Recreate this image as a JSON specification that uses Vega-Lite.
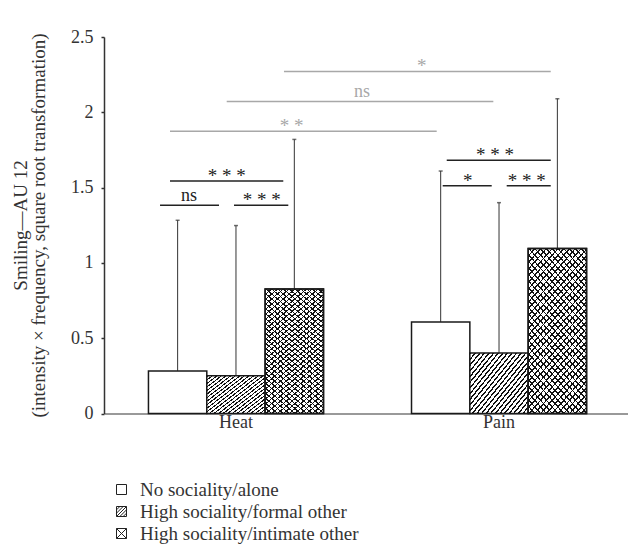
{
  "$schema": "https://vega.github.io/schema/vega-lite/v6.json",
  "width": 527,
  "height": 376.5,
  "autosize": "none",
  "padding": {"left": 104, "top": 37, "right": 0, "bottom": 142.5},
  "background": "white",
  "config": {
    "font": "Liberation Serif",
    "view": {"stroke": null},
    "axis": {"labelFont": "Liberation Serif", "titleFont": "Liberation Serif", "labelColor": "#333", "titleColor": "#333", "grid": false}
  },
  "datasets": {
    "bars": [
      {"stimulus": "Heat", "condition": "No sociality/alone", "mean": 0.283, "upper": 1.283},
      {"stimulus": "Heat", "condition": "High sociality/formal other", "mean": 0.25, "upper": 1.248},
      {"stimulus": "Heat", "condition": "High sociality/intimate other", "mean": 0.827, "upper": 1.82},
      {"stimulus": "Pain", "condition": "No sociality/alone", "mean": 0.608, "upper": 1.61},
      {"stimulus": "Pain", "condition": "High sociality/formal other", "mean": 0.402, "upper": 1.4},
      {"stimulus": "Pain", "condition": "High sociality/intimate other", "mean": 1.095, "upper": 2.09}
    ],
    "sig": [
      {"kind": "across", "from": 2.834, "to": 7.407, "y": 2.271, "label": "*", "lx": 5.195},
      {"kind": "across", "from": 1.852, "to": 6.423, "y": 2.072, "label": "ns", "lx": 4.172},
      {"kind": "across", "from": 0.88, "to": 5.452, "y": 1.875, "label": "* *", "lx": 2.966},
      {"kind": "within", "from": 0.88, "to": 2.822, "y": 1.543, "label": "* * *", "lx": 1.852},
      {"kind": "within", "from": 0.709, "to": 1.72, "y": 1.382, "label": "ns", "lx": 1.206},
      {"kind": "within", "from": 1.977, "to": 2.908, "y": 1.382, "label": "* * *", "lx": 2.452},
      {"kind": "within", "from": 5.624, "to": 7.407, "y": 1.681, "label": "* * *", "lx": 6.452},
      {"kind": "within", "from": 5.555, "to": 6.395, "y": 1.513, "label": "*", "lx": 5.984},
      {"kind": "within", "from": 6.652, "to": 7.407, "y": 1.513, "label": "* * *", "lx": 6.995}
    ]
  },
  "layer": [
    {
      "data": {"name": "bars"},
      "encoding": {
        "x": {
          "field": "stimulus", "type": "nominal",
          "scale": {"paddingInner": 0.3346, "paddingOuter": 0.169},
          "axis": {"title": null, "ticks": false, "labelAngle": 0, "labelFontSize": 18, "labelPadding": 0, "labelBaseline": "top", "domainColor": "#777", "domainWidth": 1.5}
        },
        "xOffset": {
          "field": "condition", "type": "nominal",
          "sort": ["No sociality/alone", "High sociality/formal other", "High sociality/intimate other"],
          "scale": {"paddingInner": 0, "paddingOuter": 0}
        },
        "y": {
          "field": "mean", "type": "quantitative",
          "scale": {"domain": [0, 2.5], "nice": false},
          "axis": {
            "values": [0, 0.5, 1, 1.5, 2, 2.5],
            "labelExpr": "'' + datum.value",
            "labelFontSize": 18, "labelPadding": 8,
            "tickSize": 3, "tickColor": "#333", "tickWidth": 1.5,
            "domainColor": "#333", "domainWidth": 1.5,
            "title": ["Smiling—AU 12", "(intensity × frequency, square root transformation)"],
            "titleFontSize": 19, "titleFontWeight": "normal", "titleLineHeight": 18,
            "titleX": -78, "titleY": 188, "titleAlign": "center", "titleBaseline": "alphabetic", "titleAngle": -90
          }
        }
      },
      "layer": [
        {
          "mark": {"type": "rule", "color": "#333", "strokeWidth": 1},
          "encoding": {"y2": {"field": "upper"}}
        },
        {
          "mark": {"type": "tick", "color": "#333", "size": 4, "thickness": 1.5},
          "encoding": {"y": {"field": "upper", "type": "quantitative"}}
        },
        {
          "transform": [{"filter": "datum.condition == 'No sociality/alone'"}],
          "mark": {"type": "bar", "fill": "white", "stroke": "#1a1a1a", "strokeWidth": 1.5}
        },
        {
          "transform": [{"filter": "datum.condition == 'High sociality/formal other'"}],
          "mark": {"type": "bar", "stroke": "#1a1a1a", "strokeWidth": 1.5,
            "fill": {"gradient": "linear", "x1": 0, "y1": 0, "x2": 1.1096, "y2": 0.932, "stops": [
              {"offset": 0, "color": "#111"}, {"offset": 0.015, "color": "#111"}, {"offset": 0.015, "color": "#fff"}, {"offset": 0.042, "color": "#fff"},
              {"offset": 0.042, "color": "#111"}, {"offset": 0.057, "color": "#111"}, {"offset": 0.057, "color": "#fff"}, {"offset": 0.083, "color": "#fff"},
              {"offset": 0.083, "color": "#111"}, {"offset": 0.099, "color": "#111"}, {"offset": 0.099, "color": "#fff"}, {"offset": 0.125, "color": "#fff"},
              {"offset": 0.125, "color": "#111"}, {"offset": 0.14, "color": "#111"}, {"offset": 0.14, "color": "#fff"}, {"offset": 0.167, "color": "#fff"},
              {"offset": 0.167, "color": "#111"}, {"offset": 0.182, "color": "#111"}, {"offset": 0.182, "color": "#fff"}, {"offset": 0.208, "color": "#fff"},
              {"offset": 0.208, "color": "#111"}, {"offset": 0.224, "color": "#111"}, {"offset": 0.224, "color": "#fff"}, {"offset": 0.25, "color": "#fff"},
              {"offset": 0.25, "color": "#111"}, {"offset": 0.265, "color": "#111"}, {"offset": 0.265, "color": "#fff"}, {"offset": 0.292, "color": "#fff"},
              {"offset": 0.292, "color": "#111"}, {"offset": 0.307, "color": "#111"}, {"offset": 0.307, "color": "#fff"}, {"offset": 0.333, "color": "#fff"},
              {"offset": 0.333, "color": "#111"}, {"offset": 0.349, "color": "#111"}, {"offset": 0.349, "color": "#fff"}, {"offset": 0.375, "color": "#fff"},
              {"offset": 0.375, "color": "#111"}, {"offset": 0.39, "color": "#111"}, {"offset": 0.39, "color": "#fff"}, {"offset": 0.417, "color": "#fff"},
              {"offset": 0.417, "color": "#111"}, {"offset": 0.432, "color": "#111"}, {"offset": 0.432, "color": "#fff"}, {"offset": 0.458, "color": "#fff"},
              {"offset": 0.458, "color": "#111"}, {"offset": 0.474, "color": "#111"}, {"offset": 0.474, "color": "#fff"}, {"offset": 0.5, "color": "#fff"},
              {"offset": 0.5, "color": "#111"}, {"offset": 0.515, "color": "#111"}, {"offset": 0.515, "color": "#fff"}, {"offset": 0.542, "color": "#fff"},
              {"offset": 0.542, "color": "#111"}, {"offset": 0.557, "color": "#111"}, {"offset": 0.557, "color": "#fff"}, {"offset": 0.583, "color": "#fff"},
              {"offset": 0.583, "color": "#111"}, {"offset": 0.599, "color": "#111"}, {"offset": 0.599, "color": "#fff"}, {"offset": 0.625, "color": "#fff"},
              {"offset": 0.625, "color": "#111"}, {"offset": 0.64, "color": "#111"}, {"offset": 0.64, "color": "#fff"}, {"offset": 0.667, "color": "#fff"},
              {"offset": 0.667, "color": "#111"}, {"offset": 0.682, "color": "#111"}, {"offset": 0.682, "color": "#fff"}, {"offset": 0.708, "color": "#fff"},
              {"offset": 0.708, "color": "#111"}, {"offset": 0.724, "color": "#111"}, {"offset": 0.724, "color": "#fff"}, {"offset": 0.75, "color": "#fff"},
              {"offset": 0.75, "color": "#111"}, {"offset": 0.765, "color": "#111"}, {"offset": 0.765, "color": "#fff"}, {"offset": 0.792, "color": "#fff"},
              {"offset": 0.792, "color": "#111"}, {"offset": 0.807, "color": "#111"}, {"offset": 0.807, "color": "#fff"}, {"offset": 0.833, "color": "#fff"},
              {"offset": 0.833, "color": "#111"}, {"offset": 0.849, "color": "#111"}, {"offset": 0.849, "color": "#fff"}, {"offset": 0.875, "color": "#fff"},
              {"offset": 0.875, "color": "#111"}, {"offset": 0.89, "color": "#111"}, {"offset": 0.89, "color": "#fff"}, {"offset": 0.917, "color": "#fff"},
              {"offset": 0.917, "color": "#111"}, {"offset": 0.932, "color": "#111"}, {"offset": 0.932, "color": "#fff"}, {"offset": 0.958, "color": "#fff"},
              {"offset": 0.958, "color": "#111"}, {"offset": 0.974, "color": "#111"}, {"offset": 0.974, "color": "#fff"}, {"offset": 1, "color": "#fff"}
            ]}
          }
        },
        {
          "transform": [{"filter": "datum.condition == 'High sociality/intimate other'"}],
          "mark": {"type": "bar", "stroke": "#1a1a1a", "strokeWidth": 1.5,
            "fill": {"gradient": "linear", "x1": 0, "y1": 0, "x2": 0.49866, "y2": 1.23937, "stops": [
              {"offset": 0, "color": "#111"}, {"offset": 0.0075, "color": "#111"}, {"offset": 0.0075, "color": "#fff"}, {"offset": 0.0278, "color": "#fff"},
              {"offset": 0.0278, "color": "#111"}, {"offset": 0.0353, "color": "#111"}, {"offset": 0.0353, "color": "#fff"}, {"offset": 0.0556, "color": "#fff"},
              {"offset": 0.0556, "color": "#111"}, {"offset": 0.0631, "color": "#111"}, {"offset": 0.0631, "color": "#fff"}, {"offset": 0.0833, "color": "#fff"},
              {"offset": 0.0833, "color": "#111"}, {"offset": 0.0908, "color": "#111"}, {"offset": 0.0908, "color": "#fff"}, {"offset": 0.1111, "color": "#fff"},
              {"offset": 0.1111, "color": "#111"}, {"offset": 0.1186, "color": "#111"}, {"offset": 0.1186, "color": "#fff"}, {"offset": 0.1389, "color": "#fff"},
              {"offset": 0.1389, "color": "#111"}, {"offset": 0.1464, "color": "#111"}, {"offset": 0.1464, "color": "#fff"}, {"offset": 0.1667, "color": "#fff"},
              {"offset": 0.1667, "color": "#111"}, {"offset": 0.1742, "color": "#111"}, {"offset": 0.1742, "color": "#fff"}, {"offset": 0.1944, "color": "#fff"},
              {"offset": 0.1944, "color": "#111"}, {"offset": 0.2019, "color": "#111"}, {"offset": 0.2019, "color": "#fff"}, {"offset": 0.2222, "color": "#fff"},
              {"offset": 0.2222, "color": "#111"}, {"offset": 0.2297, "color": "#111"}, {"offset": 0.2297, "color": "#fff"}, {"offset": 0.25, "color": "#fff"},
              {"offset": 0.25, "color": "#111"}, {"offset": 0.2575, "color": "#111"}, {"offset": 0.2575, "color": "#fff"}, {"offset": 0.2778, "color": "#fff"},
              {"offset": 0.2778, "color": "#111"}, {"offset": 0.2853, "color": "#111"}, {"offset": 0.2853, "color": "#fff"}, {"offset": 0.3056, "color": "#fff"},
              {"offset": 0.3056, "color": "#111"}, {"offset": 0.3131, "color": "#111"}, {"offset": 0.3131, "color": "#fff"}, {"offset": 0.3333, "color": "#fff"},
              {"offset": 0.3333, "color": "#111"}, {"offset": 0.3408, "color": "#111"}, {"offset": 0.3408, "color": "#fff"}, {"offset": 0.3611, "color": "#fff"},
              {"offset": 0.3611, "color": "#111"}, {"offset": 0.3686, "color": "#111"}, {"offset": 0.3686, "color": "#fff"}, {"offset": 0.3889, "color": "#fff"},
              {"offset": 0.3889, "color": "#111"}, {"offset": 0.3964, "color": "#111"}, {"offset": 0.3964, "color": "#fff"}, {"offset": 0.4167, "color": "#fff"},
              {"offset": 0.4167, "color": "#111"}, {"offset": 0.4242, "color": "#111"}, {"offset": 0.4242, "color": "#fff"}, {"offset": 0.4444, "color": "#fff"},
              {"offset": 0.4444, "color": "#111"}, {"offset": 0.4519, "color": "#111"}, {"offset": 0.4519, "color": "#fff"}, {"offset": 0.4722, "color": "#fff"},
              {"offset": 0.4722, "color": "#111"}, {"offset": 0.4797, "color": "#111"}, {"offset": 0.4797, "color": "#fff"}, {"offset": 0.5, "color": "#fff"},
              {"offset": 0.5, "color": "#111"}, {"offset": 0.5075, "color": "#111"}, {"offset": 0.5075, "color": "#fff"}, {"offset": 0.5278, "color": "#fff"},
              {"offset": 0.5278, "color": "#111"}, {"offset": 0.5353, "color": "#111"}, {"offset": 0.5353, "color": "#fff"}, {"offset": 0.5556, "color": "#fff"},
              {"offset": 0.5556, "color": "#111"}, {"offset": 0.5631, "color": "#111"}, {"offset": 0.5631, "color": "#fff"}, {"offset": 0.5833, "color": "#fff"},
              {"offset": 0.5833, "color": "#111"}, {"offset": 0.5908, "color": "#111"}, {"offset": 0.5908, "color": "#fff"}, {"offset": 0.6111, "color": "#fff"},
              {"offset": 0.6111, "color": "#111"}, {"offset": 0.6186, "color": "#111"}, {"offset": 0.6186, "color": "#fff"}, {"offset": 0.6389, "color": "#fff"},
              {"offset": 0.6389, "color": "#111"}, {"offset": 0.6464, "color": "#111"}, {"offset": 0.6464, "color": "#fff"}, {"offset": 0.6667, "color": "#fff"},
              {"offset": 0.6667, "color": "#111"}, {"offset": 0.6742, "color": "#111"}, {"offset": 0.6742, "color": "#fff"}, {"offset": 0.6944, "color": "#fff"},
              {"offset": 0.6944, "color": "#111"}, {"offset": 0.7019, "color": "#111"}, {"offset": 0.7019, "color": "#fff"}, {"offset": 0.7222, "color": "#fff"},
              {"offset": 0.7222, "color": "#111"}, {"offset": 0.7297, "color": "#111"}, {"offset": 0.7297, "color": "#fff"}, {"offset": 0.75, "color": "#fff"},
              {"offset": 0.75, "color": "#111"}, {"offset": 0.7575, "color": "#111"}, {"offset": 0.7575, "color": "#fff"}, {"offset": 0.7778, "color": "#fff"},
              {"offset": 0.7778, "color": "#111"}, {"offset": 0.7853, "color": "#111"}, {"offset": 0.7853, "color": "#fff"}, {"offset": 0.8056, "color": "#fff"},
              {"offset": 0.8056, "color": "#111"}, {"offset": 0.8131, "color": "#111"}, {"offset": 0.8131, "color": "#fff"}, {"offset": 0.8333, "color": "#fff"},
              {"offset": 0.8333, "color": "#111"}, {"offset": 0.8408, "color": "#111"}, {"offset": 0.8408, "color": "#fff"}, {"offset": 0.8611, "color": "#fff"},
              {"offset": 0.8611, "color": "#111"}, {"offset": 0.8686, "color": "#111"}, {"offset": 0.8686, "color": "#fff"}, {"offset": 0.8889, "color": "#fff"},
              {"offset": 0.8889, "color": "#111"}, {"offset": 0.8964, "color": "#111"}, {"offset": 0.8964, "color": "#fff"}, {"offset": 0.9167, "color": "#fff"},
              {"offset": 0.9167, "color": "#111"}, {"offset": 0.9242, "color": "#111"}, {"offset": 0.9242, "color": "#fff"}, {"offset": 0.9444, "color": "#fff"},
              {"offset": 0.9444, "color": "#111"}, {"offset": 0.9519, "color": "#111"}, {"offset": 0.9519, "color": "#fff"}, {"offset": 0.9722, "color": "#fff"},
              {"offset": 0.9722, "color": "#111"}, {"offset": 0.9797, "color": "#111"}, {"offset": 0.9797, "color": "#fff"}, {"offset": 1, "color": "#fff"}
            ]}
          }
        },
        {
          "transform": [{"filter": "datum.condition == 'High sociality/intimate other'"}],
          "mark": {"type": "bar", "stroke": "#1a1a1a", "strokeWidth": 1.5,
            "fill": {"gradient": "linear", "x1": 0, "y1": 1, "x2": 0.49866, "y2": -0.23937, "stops": [
              {"offset": 0, "color": "#111"}, {"offset": 0.0075, "color": "#111"}, {"offset": 0.0075, "color": "transparent"}, {"offset": 0.0278, "color": "transparent"},
              {"offset": 0.0278, "color": "#111"}, {"offset": 0.0353, "color": "#111"}, {"offset": 0.0353, "color": "transparent"}, {"offset": 0.0556, "color": "transparent"},
              {"offset": 0.0556, "color": "#111"}, {"offset": 0.0631, "color": "#111"}, {"offset": 0.0631, "color": "transparent"}, {"offset": 0.0833, "color": "transparent"},
              {"offset": 0.0833, "color": "#111"}, {"offset": 0.0908, "color": "#111"}, {"offset": 0.0908, "color": "transparent"}, {"offset": 0.1111, "color": "transparent"},
              {"offset": 0.1111, "color": "#111"}, {"offset": 0.1186, "color": "#111"}, {"offset": 0.1186, "color": "transparent"}, {"offset": 0.1389, "color": "transparent"},
              {"offset": 0.1389, "color": "#111"}, {"offset": 0.1464, "color": "#111"}, {"offset": 0.1464, "color": "transparent"}, {"offset": 0.1667, "color": "transparent"},
              {"offset": 0.1667, "color": "#111"}, {"offset": 0.1742, "color": "#111"}, {"offset": 0.1742, "color": "transparent"}, {"offset": 0.1944, "color": "transparent"},
              {"offset": 0.1944, "color": "#111"}, {"offset": 0.2019, "color": "#111"}, {"offset": 0.2019, "color": "transparent"}, {"offset": 0.2222, "color": "transparent"},
              {"offset": 0.2222, "color": "#111"}, {"offset": 0.2297, "color": "#111"}, {"offset": 0.2297, "color": "transparent"}, {"offset": 0.25, "color": "transparent"},
              {"offset": 0.25, "color": "#111"}, {"offset": 0.2575, "color": "#111"}, {"offset": 0.2575, "color": "transparent"}, {"offset": 0.2778, "color": "transparent"},
              {"offset": 0.2778, "color": "#111"}, {"offset": 0.2853, "color": "#111"}, {"offset": 0.2853, "color": "transparent"}, {"offset": 0.3056, "color": "transparent"},
              {"offset": 0.3056, "color": "#111"}, {"offset": 0.3131, "color": "#111"}, {"offset": 0.3131, "color": "transparent"}, {"offset": 0.3333, "color": "transparent"},
              {"offset": 0.3333, "color": "#111"}, {"offset": 0.3408, "color": "#111"}, {"offset": 0.3408, "color": "transparent"}, {"offset": 0.3611, "color": "transparent"},
              {"offset": 0.3611, "color": "#111"}, {"offset": 0.3686, "color": "#111"}, {"offset": 0.3686, "color": "transparent"}, {"offset": 0.3889, "color": "transparent"},
              {"offset": 0.3889, "color": "#111"}, {"offset": 0.3964, "color": "#111"}, {"offset": 0.3964, "color": "transparent"}, {"offset": 0.4167, "color": "transparent"},
              {"offset": 0.4167, "color": "#111"}, {"offset": 0.4242, "color": "#111"}, {"offset": 0.4242, "color": "transparent"}, {"offset": 0.4444, "color": "transparent"},
              {"offset": 0.4444, "color": "#111"}, {"offset": 0.4519, "color": "#111"}, {"offset": 0.4519, "color": "transparent"}, {"offset": 0.4722, "color": "transparent"},
              {"offset": 0.4722, "color": "#111"}, {"offset": 0.4797, "color": "#111"}, {"offset": 0.4797, "color": "transparent"}, {"offset": 0.5, "color": "transparent"},
              {"offset": 0.5, "color": "#111"}, {"offset": 0.5075, "color": "#111"}, {"offset": 0.5075, "color": "transparent"}, {"offset": 0.5278, "color": "transparent"},
              {"offset": 0.5278, "color": "#111"}, {"offset": 0.5353, "color": "#111"}, {"offset": 0.5353, "color": "transparent"}, {"offset": 0.5556, "color": "transparent"},
              {"offset": 0.5556, "color": "#111"}, {"offset": 0.5631, "color": "#111"}, {"offset": 0.5631, "color": "transparent"}, {"offset": 0.5833, "color": "transparent"},
              {"offset": 0.5833, "color": "#111"}, {"offset": 0.5908, "color": "#111"}, {"offset": 0.5908, "color": "transparent"}, {"offset": 0.6111, "color": "transparent"},
              {"offset": 0.6111, "color": "#111"}, {"offset": 0.6186, "color": "#111"}, {"offset": 0.6186, "color": "transparent"}, {"offset": 0.6389, "color": "transparent"},
              {"offset": 0.6389, "color": "#111"}, {"offset": 0.6464, "color": "#111"}, {"offset": 0.6464, "color": "transparent"}, {"offset": 0.6667, "color": "transparent"},
              {"offset": 0.6667, "color": "#111"}, {"offset": 0.6742, "color": "#111"}, {"offset": 0.6742, "color": "transparent"}, {"offset": 0.6944, "color": "transparent"},
              {"offset": 0.6944, "color": "#111"}, {"offset": 0.7019, "color": "#111"}, {"offset": 0.7019, "color": "transparent"}, {"offset": 0.7222, "color": "transparent"},
              {"offset": 0.7222, "color": "#111"}, {"offset": 0.7297, "color": "#111"}, {"offset": 0.7297, "color": "transparent"}, {"offset": 0.75, "color": "transparent"},
              {"offset": 0.75, "color": "#111"}, {"offset": 0.7575, "color": "#111"}, {"offset": 0.7575, "color": "transparent"}, {"offset": 0.7778, "color": "transparent"},
              {"offset": 0.7778, "color": "#111"}, {"offset": 0.7853, "color": "#111"}, {"offset": 0.7853, "color": "transparent"}, {"offset": 0.8056, "color": "transparent"},
              {"offset": 0.8056, "color": "#111"}, {"offset": 0.8131, "color": "#111"}, {"offset": 0.8131, "color": "transparent"}, {"offset": 0.8333, "color": "transparent"},
              {"offset": 0.8333, "color": "#111"}, {"offset": 0.8408, "color": "#111"}, {"offset": 0.8408, "color": "transparent"}, {"offset": 0.8611, "color": "transparent"},
              {"offset": 0.8611, "color": "#111"}, {"offset": 0.8686, "color": "#111"}, {"offset": 0.8686, "color": "transparent"}, {"offset": 0.8889, "color": "transparent"},
              {"offset": 0.8889, "color": "#111"}, {"offset": 0.8964, "color": "#111"}, {"offset": 0.8964, "color": "transparent"}, {"offset": 0.9167, "color": "transparent"},
              {"offset": 0.9167, "color": "#111"}, {"offset": 0.9242, "color": "#111"}, {"offset": 0.9242, "color": "transparent"}, {"offset": 0.9444, "color": "transparent"},
              {"offset": 0.9444, "color": "#111"}, {"offset": 0.9519, "color": "#111"}, {"offset": 0.9519, "color": "transparent"}, {"offset": 0.9722, "color": "transparent"},
              {"offset": 0.9722, "color": "#111"}, {"offset": 0.9797, "color": "#111"}, {"offset": 0.9797, "color": "transparent"}, {"offset": 1, "color": "transparent"}
            ]}
          }
        },
        {
          "mark": {"type": "point", "opacity": 0},
          "encoding": {
            "shape": {
              "field": "condition", "type": "nominal",
              "scale": {
                "domain": ["No sociality/alone", "High sociality/formal other", "High sociality/intimate other"],
                "range": [
                  "M-1,-1H1V1H-1Z",
                  "M-1,-1H1V1H-1Z M-1,-0.33L-0.33,-1 M-1,0.33L0.33,-1 M-1,1L1,-1 M-0.33,1L1,-0.33 M0.33,1L1,0.33",
                  "M-1,-1H1V1H-1Z M-1,-1L1,1 M-1,1L1,-1"
                ]
              },
              "legend": {
                "title": null, "orient": "none", "legendX": 8, "legendY": 443, "padding": 0,
                "symbolSize": 100, "symbolOpacity": 1, "symbolFillColor": "white", "symbolStrokeColor": "#222", "symbolStrokeWidth": 1,
                "labelFont": "Liberation Serif", "labelFontSize": 19, "labelColor": "#333", "labelOffset": 9, "rowPadding": 2, "labelLimit": 400
              }
            }
          }
        }
      ]
    },
    {
      "data": {"name": "sig"},
      "encoding": {
        "x": {"field": "from", "type": "quantitative", "scale": {"domain": [-0.2515, 8.783], "nice": false, "zero": false}, "axis": null},
        "y": {"field": "y", "type": "quantitative"},
        "color": {"field": "kind", "type": "nominal", "scale": {"domain": ["across", "within"], "range": ["#a8a8a8", "#222"]}, "legend": null}
      },
      "layer": [
        {
          "mark": {"type": "rule", "strokeWidth": 1.5},
          "encoding": {"x2": {"field": "to"}}
        },
        {
          "transform": [{"filter": "datum.label == 'ns'"}],
          "mark": {"type": "text", "fontSize": 18, "baseline": "alphabetic", "dy": -4},
          "encoding": {
            "x": {"field": "lx", "type": "quantitative"},
            "text": {"field": "label"},
            "color": {"field": "kind", "type": "nominal", "scale": {"domain": ["across", "within"], "range": ["#a8a8a8", "#333"]}, "legend": null}
          }
        },
        {
          "transform": [{"filter": "datum.label != 'ns'"}],
          "mark": {"type": "text", "fontSize": 19, "baseline": "alphabetic", "dy": 1},
          "encoding": {
            "x": {"field": "lx", "type": "quantitative"},
            "text": {"field": "label"},
            "color": {"field": "kind", "type": "nominal", "scale": {"domain": ["across", "within"], "range": ["#a8a8a8", "#333"]}, "legend": null}
          }
        }
      ]
    }
  ],
  "resolve": {"scale": {"x": "independent"}}
}
